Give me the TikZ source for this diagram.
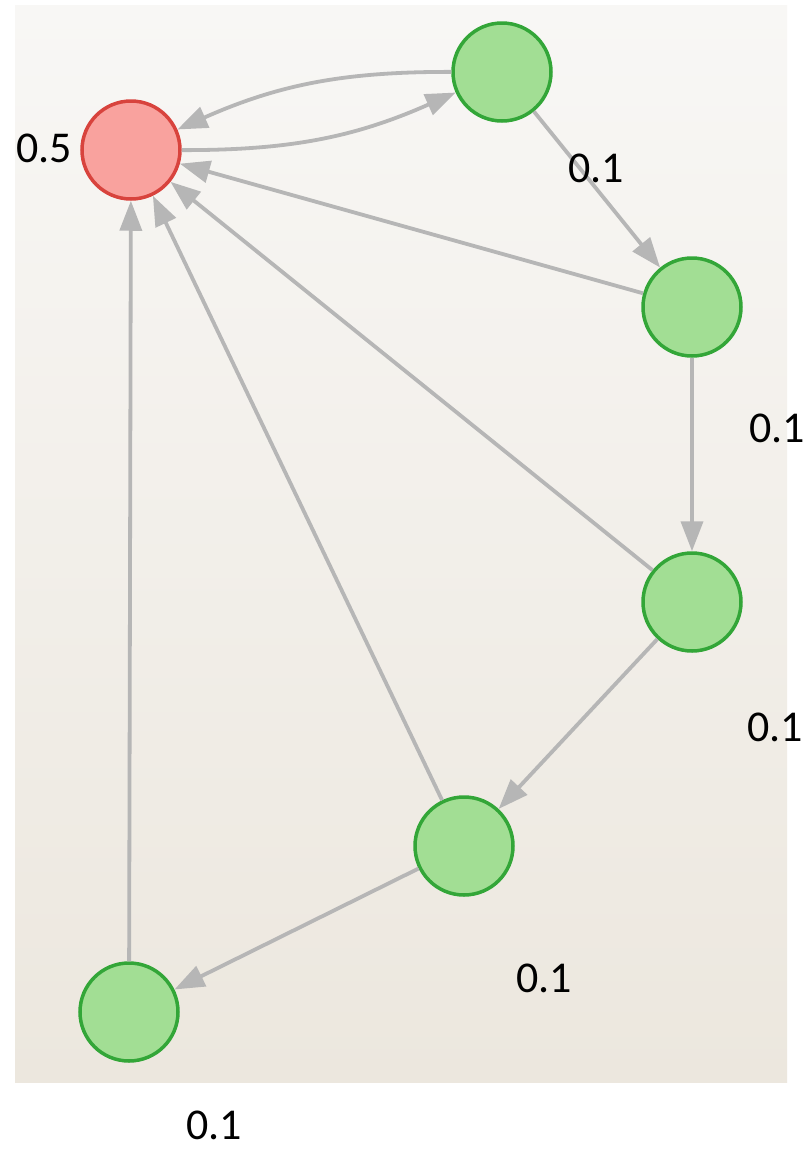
\documentclass[tikz,border=0pt]{standalone}
\usepackage{fontspec}
\setmainfont{Carlito}
\usetikzlibrary{arrows.meta}
\definecolor{edgegray}{HTML}{B6B6B6}
\definecolor{redfill}{HTML}{F9A29E}
\definecolor{redline}{HTML}{D8433D}
\definecolor{greenfill}{HTML}{A2DE94}
\definecolor{greenline}{HTML}{33A638}
\definecolor{paneltop}{HTML}{F8F7F5}
\definecolor{panelbot}{HTML}{ECE7DE}
\begin{document}
\begin{tikzpicture}[x=1pt,y=-1pt,
  state/.style={circle,minimum size=98pt,inner sep=0pt,line width=3.5pt},
  goal/.style={state,draw=redline,fill=redfill},
  plain/.style={state,draw=greenline,fill=greenfill},
  link/.style={draw=edgegray,line width=3.8pt,-{Triangle[length=30pt,width=22pt]}},
  prob/.style={font=\fontsize{44}{50}\selectfont,text=black,inner sep=0pt}]
\useasboundingbox (0,0) rectangle (806,1152);
\fill[white] (0,0) rectangle (806,1152);
\shade[top color=paneltop,bottom color=panelbot] (15,5) rectangle (787,1082);

% states
\node[goal]  (r) at (131,150) {};
\node[plain] (a) at (502,72) {};
\node[plain] (b) at (692,307) {};
\node[plain] (c) at (692,602) {};
\node[plain] (d) at (464,846) {};
\node[plain] (e) at (129,1012) {};

% transitions
\draw[link] (a) to[bend right=12] (r);
\draw[link] (r) to[bend right=12] (a);
\draw[link] (a) -- (b);
\draw[link] (b) -- (r);
\draw[link] (b) -- (c);
\draw[link] (c) -- (r);
\draw[link] (c) -- (d);
\draw[link] (d) -- (r);
\draw[link] (d) -- (e);
\draw[link] (e) -- (r);

% probabilities
\node[prob,anchor=east] (pr) at (72,148) {0.5};
\node[prob] (pa) at (596,168) {0.1};
\node[prob] (pb) at (777,428) {0.1};
\node[prob] (pc) at (775,727) {0.1};
\node[prob] (pd) at (544,978) {0.1};
\node[prob] (pe) at (214,1125) {0.1};
\end{tikzpicture}
\end{document}
